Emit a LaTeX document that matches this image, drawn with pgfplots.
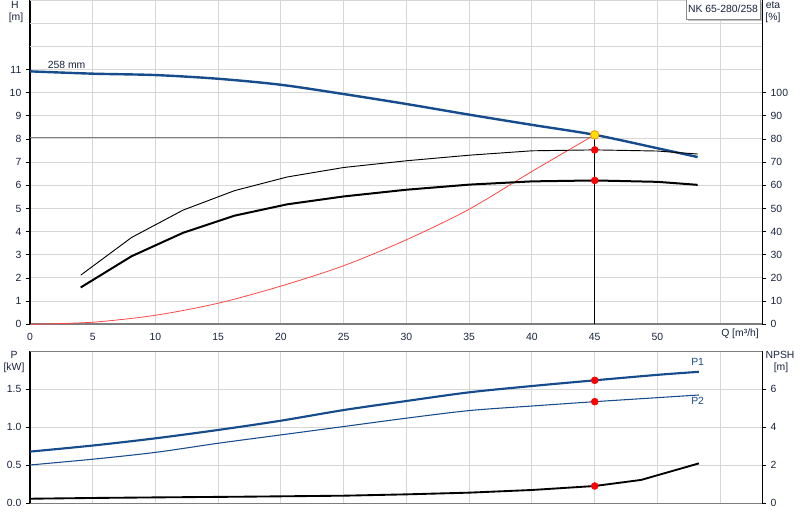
\documentclass[border=0pt]{standalone}
\usepackage{fontspec}
\setmainfont{Liberation Sans}
\usepackage{pgfplots}
\pgfplotsset{compat=1.18}

\definecolor{hblue}{RGB}{22,76,140}
\definecolor{gridc}{RGB}{214,214,214}
\definecolor{axgray}{RGB}{125,125,125}
\definecolor{dutyyel}{RGB}{255,222,0}
\definecolor{dutyor}{RGB}{240,150,0}
\definecolor{sysred}{RGB}{255,70,70}
\definecolor{txt}{RGB}{25,35,60}

\pgfplotsset{
  pump/.style={
    scale only axis, width=549pt,
    xmin=0, xmax=58.33,
    tick align=outside, major tick length=3pt,
    tick style={black, line width=0.6pt},
    xtick style={draw=none},
    ticklabel style={font=\fontsize{7.8}{9}\selectfont, text=txt},
    /pgf/number format/assume math mode=true,
  },
}

\begin{document}
\begin{tikzpicture}
\useasboundingbox (0,0) rectangle (600pt,390pt);

% ---------- upper panel: H, eta ----------
\begin{axis}[pump,
    at={(22.5pt,146.78pt)}, anchor=south west, height=243.2pt,
    ymin=0, ymax=14,
    axis x line*=bottom, axis y line*=left,
    x axis line style={axgray, line width=1.5pt},
    y axis line style={black, line width=0.75pt},
    xtick={0,5,...,55},
    xticklabels={0,5,10,15,20,25,30,35,40,45,50,{}},
    ytick={0,...,11},
    extra y ticks={12,13,14}, extra y tick labels={},
    extra y tick style={major tick length=0pt},
    grid=major, grid style={gridc, line width=0.75pt},
  ]
  % system curve
  \addplot[sysred, line width=0.6pt, smooth] coordinates {
    (0,0) (5,0.09) (10,0.39) (15,0.91) (20,1.65) (25,2.53)
    (30,3.65) (35,4.97) (40,6.6) (45,8.18)
  };
  % operating point guides
  \addplot[axgray, line width=0.75pt] coordinates {(0,8.06) (45,8.06)};
  \addplot[black, line width=0.75pt] coordinates {(45,0) (45,8.18)};
  % H curve
  \addplot[hblue, line width=1.8pt, smooth] coordinates {
    (0,10.92) (5,10.82) (10,10.76) (15,10.6) (20,10.34) (25,9.94)
    (30,9.51) (35,9.05) (40,8.61) (45,8.18) (50,7.6) (53.2,7.22)
  };
  \addplot[only marks, mark=*, mark size=3.2pt,
    mark options={fill=dutyyel, draw=dutyor, line width=0.6pt}]
    coordinates {(45,8.18)};
  \node[anchor=west, font=\fontsize{7.8}{9}\selectfont, text=txt, inner sep=0pt]
    at (axis cs:1.4,11.2) {258 mm};
\end{axis}

\begin{axis}[pump,
    at={(22.5pt,146.78pt)}, anchor=south west, height=243.2pt,
    ymin=0, ymax=140,
    axis x line=none, axis y line*=right,
    y axis line style={black, line width=0.75pt},
    ytick={0,10,...,100},
  ]
  \addplot[black, line width=0.7pt] coordinates {
    (4.04,21.2) (8.1,37.5) (12.2,49.3) (16.3,57.7) (20.5,63.6) (25,67.7)
    (30,70.6) (35,73) (40,74.9) (45,75.3) (50,74.8) (53.2,73.5)
  };
  \addplot[black, line width=1.5pt] coordinates {
    (4.04,15.9) (8.1,29.4) (12.2,39.5) (16.3,46.9) (20.5,51.8) (25,55.2)
    (30,58.1) (35,60.3) (40,61.7) (45,62.1) (50,61.5) (53.2,60.2)
  };
  \addplot[only marks, mark=*, mark size=2.6pt, red] coordinates {(45,75.3) (45,62.1)};
\end{axis}

% ---------- lower panel: P, NPSH ----------
\begin{axis}[pump,
    at={(22.5pt,12.53pt)}, anchor=south west, height=114pt,
    ymin=0, ymax=2,
    axis x line*=bottom, axis y line*=left,
    x axis line style={axgray, line width=1pt},
    y axis line style={black, line width=0.75pt},
    xtick={0,5,...,55}, xticklabels={}, xmajorticks=false,
    ytick={0,0.5,1,1.5},
    yticklabel style={/pgf/number format/.cd, fixed, fixed zerofill, precision=1},
    grid=major, grid style={gridc, line width=0.75pt},
  ]
  \draw[axgray, line width=1.5pt] (rel axis cs:0,1) -- (rel axis cs:1,1);
  \addplot[hblue, line width=1.6pt, smooth] coordinates {
    (0,0.68) (5,0.76) (10,0.855) (15,0.965) (20,1.087) (25,1.227)
    (30,1.346) (35,1.46) (40,1.543) (45,1.618) (50,1.69) (53.3,1.73)
  };
  \addplot[hblue, line width=0.8pt, smooth] coordinates {
    (0,0.504) (5,0.58) (10,0.67) (15,0.79) (20,0.9) (25,1.01)
    (30,1.12) (35,1.22) (40,1.28) (45,1.337) (50,1.39) (53.3,1.425)
  };
  \addplot[only marks, mark=*, mark size=2.6pt, red] coordinates {(45,1.618) (45,1.337)};
  \node[font=\fontsize{7.8}{9}\selectfont, text=hblue] at (axis cs:53.2,1.86) {P1};
  \node[font=\fontsize{7.8}{9}\selectfont, text=hblue] at (axis cs:53.2,1.35) {P2};
\end{axis}

\begin{axis}[pump,
    at={(22.5pt,12.53pt)}, anchor=south west, height=114pt,
    ymin=0, ymax=8,
    axis x line=none, axis y line*=right,
    y axis line style={black, line width=0.75pt},
    ytick={0,2,4,6},
  ]
  \addplot[black, line width=1.4pt] coordinates {
    (0,0.24) (5,0.28) (10,0.31) (17.5,0.35) (25,0.4) (30,0.47)
    (35,0.56) (40,0.7) (45,0.91) (48.7,1.23) (53.3,2.1)
  };
  \addplot[only marks, mark=*, mark size=2.6pt, red] coordinates {(45,0.91)};
\end{axis}

% ---------- labels (pixel coordinates, y downwards) ----------
\begin{scope}[x=0.75pt, y=-0.75pt, shift={(0,390pt)},
    every node/.style={font=\fontsize{7.8}{9}\selectfont, text=txt, inner sep=0pt}]
  \node at (15,5) {H};
  \node at (16,18) {[m]};
  \node at (773,5) {eta};
  \node at (773,18) {[\%]};
  \node at (14,355) {P};
  \node at (14,368) {[kW]};
  \node at (780,355) {NPSH};
  \node at (781,368) {[m]};
  \node[anchor=west] at (721,334) {Q [m³/h]};
  \fill[black!25] (688,2) rectangle (762,21);
  \draw[black!45, fill=white] (686,-1) rectangle (760,19);
  \node at (723,9) {NK 65-280/258};
\end{scope}
\end{tikzpicture}
\end{document}
